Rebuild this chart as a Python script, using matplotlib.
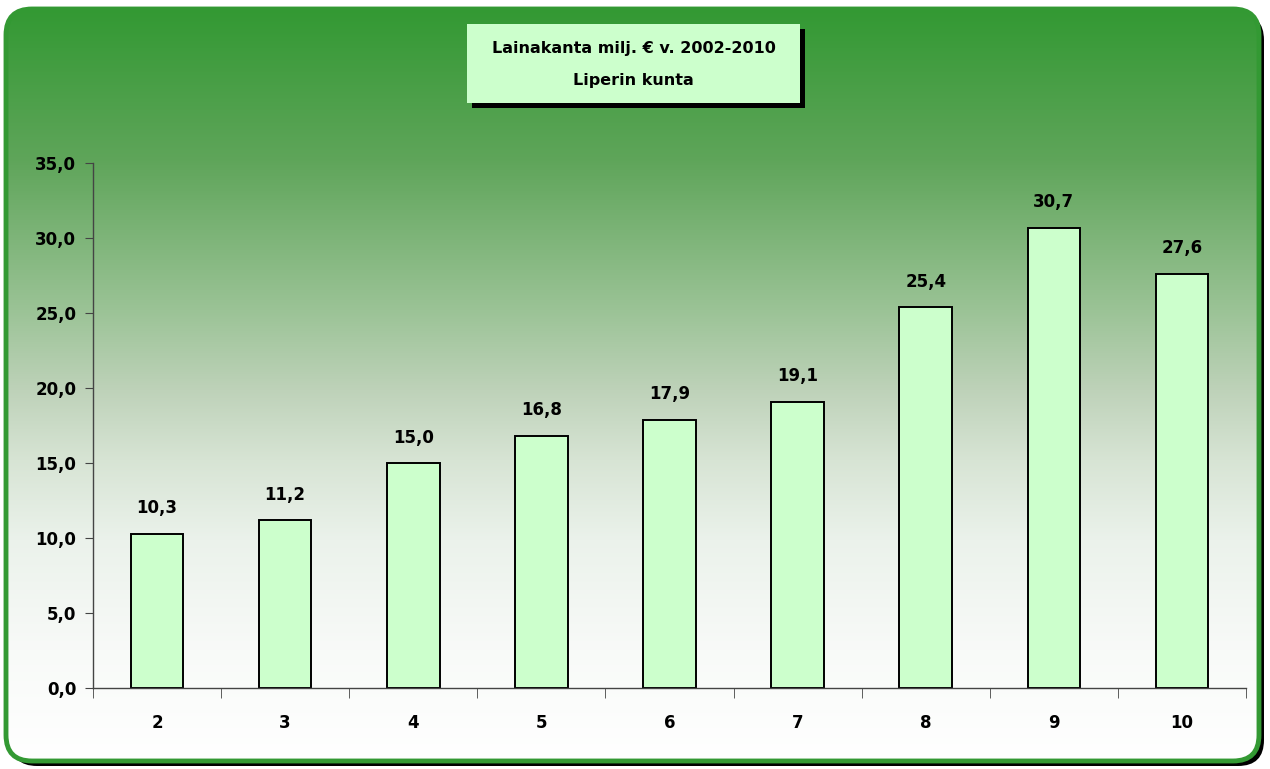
import numpy as np
import matplotlib.pyplot as plt
from matplotlib.patches import FancyBboxPatch, Rectangle

# Data
categories = ['2', '3', '4', '5', '6', '7', '8', '9', '10']
values = [10.3, 11.2, 15.0, 16.8, 17.9, 19.1, 25.4, 30.7, 27.6]
title_lines = ['Lainakanta milj. € v. 2002-2010', 'Liperin kunta']

W, H = 1270, 769
fig = plt.figure(figsize=(W / 100, H / 100), dpi=100)
fig.patch.set_facecolor('white')

# background panel with shadow, gradient and green border (pixel coords)
bg = fig.add_axes([0, 0, 1, 1])
bg.set_xlim(0, W)
bg.set_ylim(H, 0)
bg.axis('off')

x0, y0, x1, y1 = 6, 9, 1259, 761
shadow = FancyBboxPatch((x0 + 5, y0 + 5), x1 - x0, y1 - y0,
                        boxstyle='round,pad=0,rounding_size=26',
                        fc='black', ec='none', zorder=0)
bg.add_patch(shadow)

# colour stops of the vertical gradient (pixel row -> rgb)
stop_y = [9, 160, 310, 390, 460, 540, 650, 761]
stop_rgb = np.array([(51, 153, 51), (95, 165, 90), (155, 195, 150), (190, 210, 185),
                     (215, 228, 212), (235, 242, 235), (248, 250, 248), (255, 255, 255)]) / 255
rows = np.linspace(y0, y1, 500)
grad = np.stack([np.interp(rows, stop_y, stop_rgb[:, c]) for c in range(3)], axis=-1)
grad = np.repeat(grad[:, None, :], 2, axis=1)
panel = FancyBboxPatch((x0, y0), x1 - x0, y1 - y0,
                       boxstyle='round,pad=0,rounding_size=26',
                       fc='none', ec='#339933', lw=3.5, zorder=2)
bg.add_patch(panel)
im = bg.imshow(grad, extent=(x0, x1, y1, y0), aspect='auto', zorder=1)
im.set_clip_path(panel)

# title box
bx0, by0, bx1, by1 = 467, 24, 800, 103
bg.add_patch(Rectangle((bx0 + 5, by0 + 5), bx1 - bx0, by1 - by0, fc='black', ec='none', zorder=3))
bg.add_patch(Rectangle((bx0, by0), bx1 - bx0, by1 - by0, fc='#ccffcc', ec='none', zorder=4))
bg.text((bx0 + bx1) / 2, 48, title_lines[0], ha='center', va='center',
        fontsize=11.5, fontweight='bold', zorder=5)
bg.text((bx0 + bx1) / 2, 80, title_lines[1], ha='center', va='center',
        fontsize=11.5, fontweight='bold', zorder=5)

# chart
ax = fig.add_axes([93 / W, 1 - 688 / H, (1246 - 93) / W, (688 - 163) / H])
ax.patch.set_alpha(0)
x = np.arange(len(categories))
ax.bar(x, values, width=0.41, color='#ccffcc', edgecolor='black', linewidth=1.4)
for xi, v in zip(x, values):
    ax.text(xi, v + 1.1, f'{v:.1f}'.replace('.', ','), ha='center', va='bottom',
            fontsize=12, fontweight='bold')

ax.set_xlim(-0.5, len(categories) - 0.5)
ax.set_ylim(0, 35)
ax.set_yticks(np.arange(0, 35.1, 5))
ax.set_yticklabels([f'{v:.1f}'.replace('.', ',') for v in np.arange(0, 35.1, 5)],
                   fontsize=12, fontweight='bold')
ax.set_xticks(x)
ax.set_xticklabels(categories, fontsize=12, fontweight='bold')
ax.set_xticks(np.arange(-0.5, len(categories)), minor=True)
ax.tick_params(axis='x', which='major', length=0, pad=19)
ax.tick_params(axis='x', which='minor', length=7, direction='out', color='#444444')
ax.tick_params(axis='y', length=6, direction='out', pad=6, color='#444444')
for sp in ['top', 'right']:
    ax.spines[sp].set_visible(False)
for sp in ['left', 'bottom']:
    ax.spines[sp].set_color('#444444')
    ax.spines[sp].set_linewidth(1.0)

fig.savefig('out.png', dpi=100)
